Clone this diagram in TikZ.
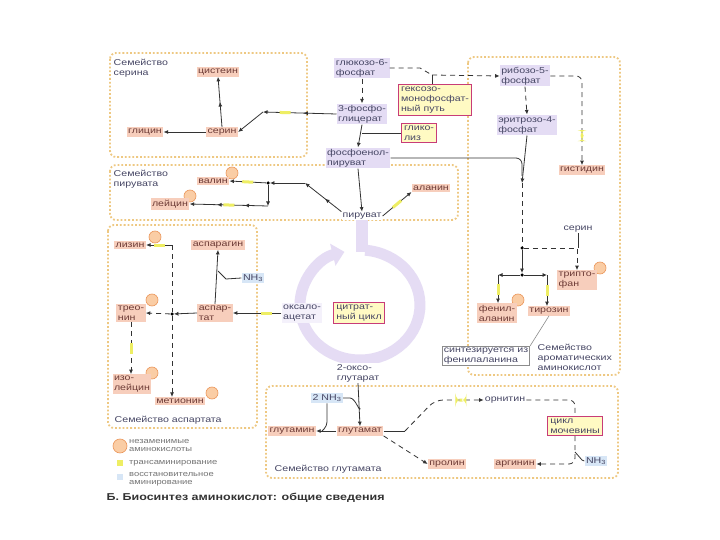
\documentclass[tikz,border=0pt]{standalone}
\usepackage{fontspec}
\setmainfont{Liberation Sans}[FakeStretch=1.25]
\usetikzlibrary{arrows.meta, decorations.markings}

\definecolor{aafill}{RGB}{247,206,188}
\definecolor{aatext}{RGB}{110,60,55}
\definecolor{metfill}{RGB}{228,220,244}
\definecolor{mettext}{RGB}{70,70,100}
\definecolor{pathfill}{RGB}{255,250,195}
\definecolor{pathline}{RGB}{200,60,120}
\definecolor{famline}{RGB}{238,200,130}
\definecolor{transcol}{RGB}{238,238,100}
\definecolor{nhfill}{RGB}{215,230,246}
\definecolor{ringcol}{RGB}{229,220,244}
\definecolor{essfill}{RGB}{250,205,165}
\definecolor{essline}{RGB}{235,150,90}

\begin{document}
\begin{tikzpicture}[x=1pt, y=-1pt,
  font=\fontsize{8.5}{10}\selectfont,
  every node/.style={inner sep=1.5pt, align=left, text=mettext},
  amino/.style={fill=aafill, text=aatext},
  metab/.style={fill=metfill},
  route/.style={fill=pathfill, draw=pathline, line width=0.8pt, inner sep=2.5pt},
  family/.style={draw=famline, dotted, line width=1.8pt, rounded corners=6pt},
  famlabel/.style={anchor=north west, text=mettext},
  ess/.style={circle, fill=essfill, draw=essline, line width=0.6pt, minimum size=12pt, inner sep=0pt},
  nh/.style={fill=nhfill},
  dotnode/.style={circle, fill=black, inner sep=0pt, minimum size=3.5pt},
  arr/.style={-{Latex[length=4.5pt,width=4pt]}, line width=0.8pt, black!80},
  darr/.style={arr, dash pattern=on 5pt off 4pt},
  dline/.style={line width=0.8pt, black!80, dash pattern=on 5pt off 4pt},
  sline/.style={line width=0.8pt, black!80},
  midarr/.style={postaction={decorate, decoration={markings,
    mark=at position #1 with {\arrow{Latex[length=4.5pt,width=4pt]}}}}},
  midarr/.default=0.5,
  tr/.style={postaction={decorate, decoration={markings,
    mark=at position #1 with {\fill[transcol] (-5.5pt,-1.5pt) rectangle (5.5pt,1.5pt);}}}},
  tr/.default=0.5,
]
\useasboundingbox (0,0) rectangle (720,540);
\fill[white] (0,0) rectangle (720,540);

% Family frames
\draw[family] (110,53) rectangle (307,157);
\draw[family] (110,165) rectangle (458,220);
\draw[family] (108,225) rectangle (257,428);
\draw[family] (468,57) rectangle (620,375);
\draw[family] (266,386) rectangle (618,478);

% Citrate cycle ring
\draw[ringcol, line width=11pt, -{Triangle[length=12pt,width=22pt]}]
  (365.2,250.2) arc[start angle=275, end angle=615, x radius=60, y radius=55];

% Essential amino acid marks (behind the boxes)
\node[ess] (valE) at (232,173) {};
\node[ess] (leuE) at (190,196) {};
\node[ess] (lysE) at (155,237) {};
\node[ess] (thrE) at (152,300) {};
\node[ess] (ileE) at (152,373) {};
\node[ess] (metE) at (212,393) {};
\node[ess] (trpE) at (600,268) {};
\node[ess] (pheE) at (518,300) {};

% Central metabolites
\node[metab] (g6p) at (362,68) {глюкозо-6-\\фосфат};
\node[metab] (pga) at (362,114) {3-фосфо-\\глицерат};
\node[metab] (pep) at (358,158) {фосфоенол-\\пируват};
\node[fill=white, inner sep=1pt] (pyr) at (362,216) {пируват};
\node[fill=metfill!40] (oaa) at (302,313) {оксало-\\ацетат};
\node[fill=white, inner sep=1pt] (oxg) at (358,373) {2-оксо-\\глутарат};
\node[metab] (r5p) at (525,76) {рибозо-5-\\фосфат};
\node[metab] (e4p) at (527,125) {эритрозо-4-\\фосфат};

% Pathway boxes
\node[route] (hmp) at (435,100) {гексозо-\\монофосфат-\\ный путь};
\node[route] (glyc) at (419,133) {глико-\\лиз};
\node[route] (tca) at (359,313) {цитрат-\\ный цикл};
\node[route] (urea) at (575,426) {цикл\\мочевины};

% Serine family
\node[famlabel] (serF) at (112,57) {Семейство\\серина};
\node[amino] (cys) at (218,72) {цистеин};
\node[amino] (ser) at (222,132) {серин};
\node[amino] (gly) at (145,132) {глицин};
\coordinate (serJ) at (263,112);

% Pyruvate family
\node[famlabel] (pyrF) at (112,168) {Семейство\\пирувата};
\node[amino] (val) at (213,181) {валин};
\node[amino] (leu) at (170,204) {лейцин};
\node[amino] (ala) at (431,188) {аланин};
\node[dotnode] (valJ) at (268,183) {};
\coordinate (pyrJ) at (305,183);
\coordinate (leuJ) at (268,206);

% Aspartate family
\node[amino] (lys) at (130,245) {лизин};
\node[amino] (asn) at (218,245) {аспарагин};
\node[nh] (nhA) at (253,278) {NH\textsubscript{3}};
\node[amino] (thr) at (131,313) {трео-\\нин};
\node[amino] (asp) at (215,313) {аспар-\\тат};
\node[amino] (ile) at (132,384) {изо-\\лейцин};
\node[amino] (met) at (180,401) {метионин};
\node[dotnode] (aspJ) at (172,314) {};
\coordinate (lysJ) at (172,245);
\node[anchor=west] (aspF) at (113,420) {Семейство аспартата};

% Aromatic family
\node[amino] (his) at (582,170) {гистидин};
\node[inner sep=1pt] (serA) at (578,229) {серин};
\node[amino] (trp) at (577,280) {трипто-\\фан};
\node[amino] (phe) at (497,313) {фенил-\\аланин};
\node[amino] (tyr) at (549,311) {тирозин};
\node[draw=black!45, fill=white, line width=0.6pt] (note) at (486,356) {синтезируется из\\фенилаланина};
\node[famlabel] (aroF) at (536,342) {Семейство\\ароматических\\аминокислот};
\coordinate (aroT) at (522,183);
\node[dotnode] (aroA) at (522,248) {};
\node[dotnode] (aroB) at (522,275) {};
\coordinate (aroL) at (498,275);
\coordinate (aroR) at (547,275);

% Glutamate family
\node[nh] (nhB) at (327,398) {2 NH\textsubscript{3}};
\node[amino] (gln) at (292,431) {глутамин};
\node[amino] (glu) at (360,431) {глутамат};
\node[inner sep=1pt] (orn) at (505,400) {орнитин};
\node[nh] (nhC) at (596,461) {NH\textsubscript{3}};
\node[amino] (pro) at (447,464) {пролин};
\node[amino] (arg) at (515,464) {аргинин};
\node[anchor=west] (gluF) at (273,469) {Семейство глутамата};
\coordinate (gluJ) at (405,431);

% Upper pathways
\coordinate (hmpJ) at (432,75);
\draw[dline] (g6p.east) -- (420,68) -- (hmpJ);
\draw[darr] (hmpJ) -- (r5p.west);
\draw[sline] (hmpJ) -- (hmpJ |- hmp.north);
\draw[darr] (g6p.south) -- (pga.north);
\draw[arr] (pga.south) -- (pep.north);
\draw[sline] (glyc.west) -- (pga.south |- glyc.west);
\draw[darr] (r5p.south) -- (e4p.north);
\draw[darr, tr=0.75, rounded corners=6pt] (r5p.east) -| (his.north);

% Serine connectors
\draw[arr, midarr=0.45, tr=0.7] (pga.west) -- (serJ);
\draw[arr] (serJ) -- (ser.east);
\draw[arr, midarr=0.5] (ser.north) -- (cys.south);
\draw[arr] (ser.west) -- (gly.east);

% Pyruvate connectors
\draw[arr] (pep.south) -- (pyr.north);
\draw[ringcol, line width=12pt] (pyr.south) -- (362,252);
\draw[arr, midarr=0.45] (pyr.north west) -- (pyrJ);
\draw[arr] (pyrJ) -- (valJ);
\draw[arr, tr] (valJ) -- (val.east);
\draw[arr] (valJ) -- (leuJ);
\draw[arr, midarr=0.3, midarr=0.65, tr=0.5] (leuJ) -- (leu.east);
\draw[arr, tr] (pyr.east) -- (ala.south west);

% Aspartate connectors
\draw[arr, tr=0.3] (oaa.west) -- (asp.east);
\draw[arr] (asp.north) -- (asn.south);
\draw[sline] (nhA.west) -- (226,279) -- (218,271);
\draw[arr] (asp.west) -- (aspJ);
\draw[darr] (aspJ) -- (thr.east);
\draw[dline] (lysJ) -- (aspJ);
\draw[darr] (aspJ) -- (aspJ |- met.north);
\draw[arr, tr] (lysJ) -- (lys.east);
\draw[darr, tr] (thr.south) -- (thr.south |- ile.north);

% Aromatic connectors
\draw[arr] (e4p.south) -- (aroT);
\draw[sline, rounded corners=6pt] (pep.east) -- (522,158) -- (522,176);
\draw[dline] (aroT) -- (aroA);
\draw[arr] (aroA) -- (aroB);
\draw[arr] (aroB) -- (aroL);
\draw[arr] (aroB) -- (aroR);
\draw[arr, tr] (aroL) -- (aroL |- phe.north);
\draw[arr, tr] (aroR) -- (aroR |- tyr.north);
\draw[darr] (aroA) -| (trp.north);
\draw[sline] (serA.south) -- (serA.south |- aroA);
\draw[black!45, line width=0.6pt] (note.north east) -- (tyr.south);

% Glutamate connectors
\draw[arr] (oxg.south) -- (glu.north);
\draw[sline] (nhB.east) -- (350,398) to[out=0, in=-90] (360,408);
\draw[arr] (glu.west) -- (gln.east);
\draw[sline, rounded corners=4pt] (nhB.south) -- (327,426) -- (322,431);
\draw[sline] (glu.east) -- (gluJ);
\draw[darr, tr=0.75, rounded corners=8pt] (gluJ) -- (435,400) -- (orn.west);
\draw[darr] (glu.south east) -- (pro.west);
\draw[dline, rounded corners=6pt] (orn.east) -| (urea.north);
\draw[darr, rounded corners=6pt] (urea.south) |- (arg.east);
\draw[sline] (nhC.west) -- (582,460) -- (575,452);

% Legend
\begin{scope}[every node/.style={anchor=west, text=black!55, font=\fontsize{7.5}{8}\selectfont, align=left, inner sep=1pt}]
\node[ess, anchor=center, minimum size=14pt] (lgEss) at (120,446) {};
\node (lgEssT) at (128,446) {незаменимые\\аминокислоты};
\node[fill=transcol, minimum size=6pt, inner sep=0pt, anchor=center] (lgTr) at (120,463) {};
\node (lgTrT) at (128,463) {трансаминирование};
\node[fill=nhfill, minimum size=6pt, inner sep=0pt, anchor=center] (lgNh) at (120,477) {};
\node (lgNhT) at (128,479) {восстановительное\\аминирование};
\end{scope}

% Title
\node[anchor=west, text=black!80, font=\bfseries\fontsize{10}{12}\selectfont] (title) at (105,498)
  {Б. Биосинтез аминокислот: общие сведения};
\end{tikzpicture}
\end{document}
